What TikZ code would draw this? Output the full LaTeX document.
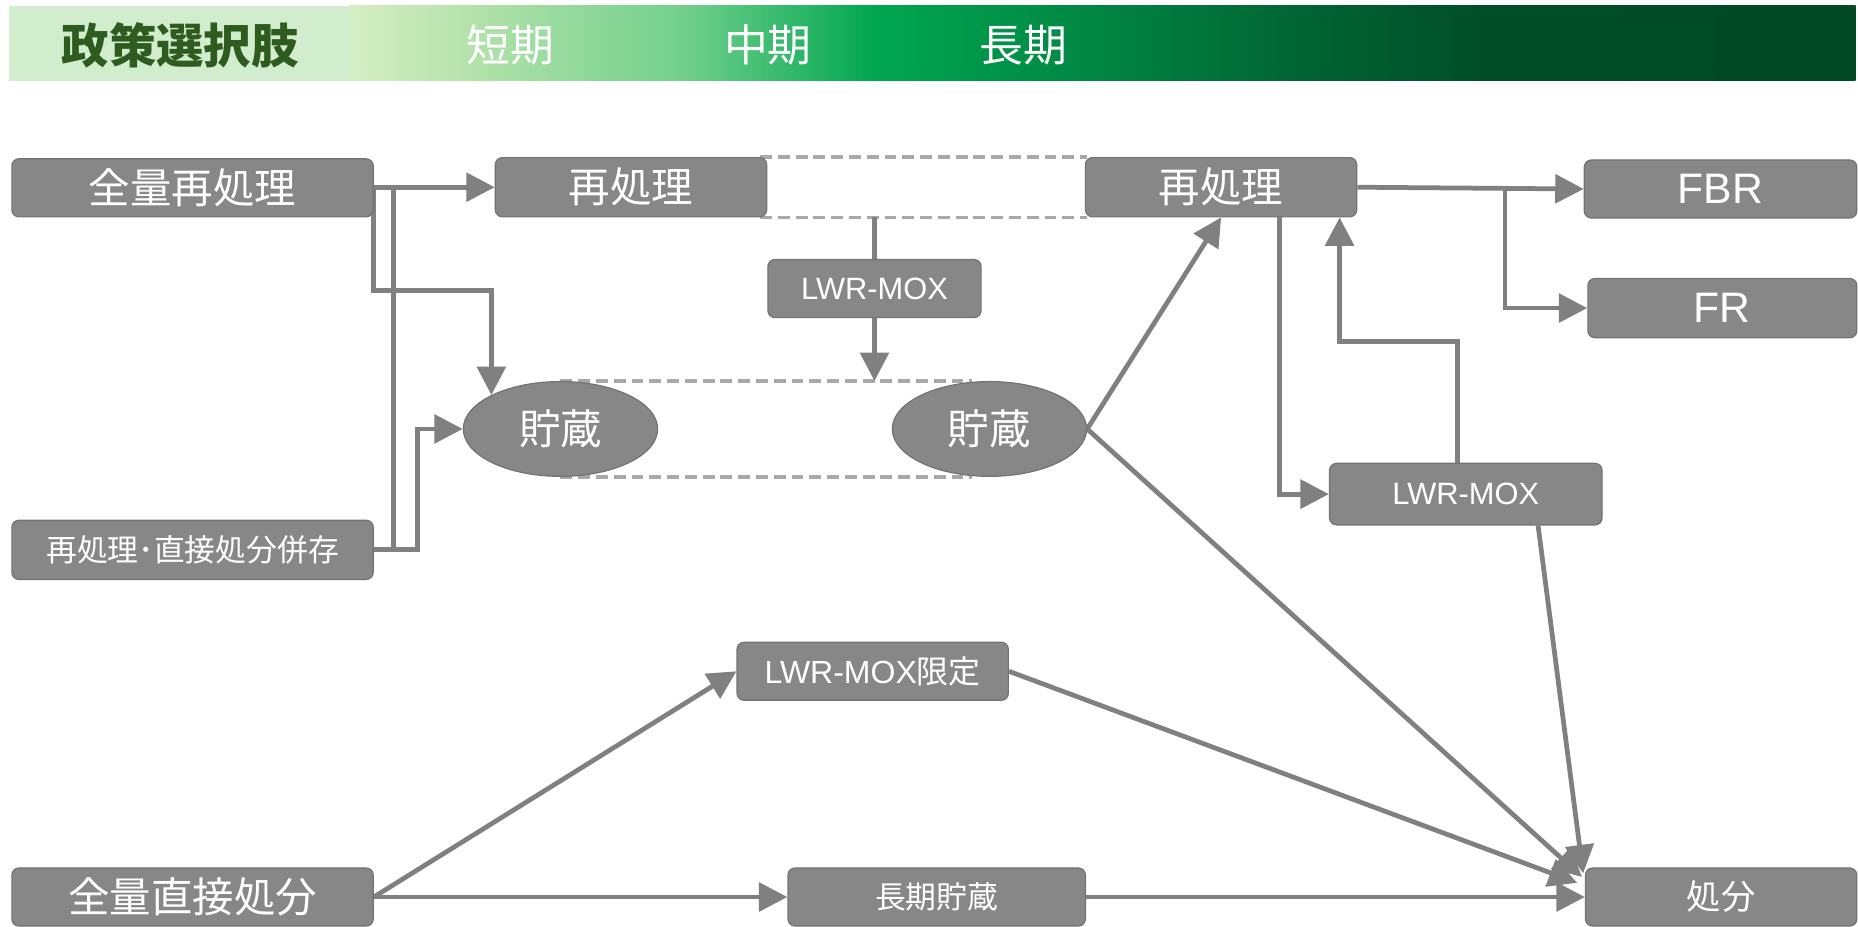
\documentclass[tikz,border=0pt]{standalone}
\usepackage{fontspec}
\setmainfont{Liberation Sans}
\newfontfamily\jp{Noto Sans CJK JP}
\usetikzlibrary{arrows.meta,shapes.geometric,backgrounds}
\definecolor{boxgray}{HTML}{878787}
\definecolor{boxedge}{HTML}{727272}
\definecolor{lineg}{HTML}{808080}
\definecolor{dashg}{HTML}{A8A8A8}
\definecolor{hdrleft}{HTML}{D2ECCE}
\definecolor{hdrtext}{HTML}{2E5C1E}
\definecolor{g1}{HTML}{D6EEC4}
\definecolor{g2}{HTML}{B4E2AA}
\definecolor{g3}{HTML}{72D08C}
\definecolor{g4}{HTML}{00A651}
\definecolor{g5}{HTML}{008A45}
\definecolor{g6}{HTML}{006434}
\definecolor{g7}{HTML}{004E28}
\definecolor{g8}{HTML}{004A25}
\pgfdeclarehorizontalshading{hdrshade}{100bp}{color(0bp)=(g1); color(25bp)=(g1); color(29bp)=(g2); color(36bp)=(g3); color(42.5bp)=(g4); color(48.8bp)=(g5); color(56.7bp)=(g6); color(62.6bp)=(g7); color(75bp)=(g8); color(100bp)=(g8)}
\tikzset{
  box/.style={rectangle, rounded corners=6pt, fill=boxgray, draw=boxedge, line width=1pt, text=white, inner sep=0pt, anchor=center},
  oval/.style={ellipse, fill=boxgray, draw=boxedge, line width=1pt, text=white, inner sep=0pt, minimum width=164pt, minimum height=80pt},
  big/.style={font=\jp\fontsize{35}{35}\selectfont},
  mid/.style={font=\fontsize{26}{26}\selectfont},
  conn/.style={draw=lineg, line width=4pt, -{Triangle[length=24pt,width=24pt]}},
  plain/.style={draw=lineg, line width=4pt},
  dashln/.style={draw=dashg, line width=3pt, dash pattern=on 10pt off 5pt},
  hdr/.style={font=\jp\fontsize{37}{37}\selectfont, text=white},
}
\begin{document}
\begin{tikzpicture}[x=1pt,y=-1pt]
\useasboundingbox (0,0) rectangle (1568,781.5);
% header
\fill[hdrleft] (8,5) rectangle (295,68);
\shade[shading=hdrshade] (295,5) rectangle (1566,68);
\node[font=\jp\bfseries\fontsize{40}{40}\selectfont, text=hdrtext] (hsel) at (152,38) {政策選択肢};
\node[hdr] (hs) at (431,38) {短期};
\node[hdr] (hm) at (648,38) {中期};
\node[hdr] (hl) at (864,38) {長期};
% boxes
\node[box, big, minimum width=305pt, minimum height=49pt] (zr) at (162.5,158.5) {全量再処理};
\node[box, big, minimum width=229pt, minimum height=50pt] (r1) at (532.5,158) {再処理};
\node[box, big, minimum width=229pt, minimum height=50pt] (r2) at (1030.5,158) {再処理};
\node[box, font=\fontsize{36}{36}\selectfont, minimum width=230pt, minimum height=49pt] (fbr) at (1452,159.5) {FBR};
\node[box, font=\fontsize{36}{36}\selectfont, minimum width=227pt, minimum height=50pt] (fr) at (1453.5,260) {FR};
\node[box, mid, minimum width=180pt, minimum height=49pt] (m1) at (738,243.5) {LWR-MOX};
\node[box, mid, minimum width=230pt, minimum height=52pt] (m2) at (1237,417) {LWR-MOX};
\node[oval, big] (s1) at (473,362) {貯蔵};
\node[oval, big] (s2) at (835,362) {貯蔵};
\node[box, font=\jp\fontsize{26}{26}\selectfont, minimum width=305pt, minimum height=50pt] (bz) at (162.5,464) {再処理･直接処分併存};
\node[box, font=\fontsize{27}{27}\selectfont, minimum width=229pt, minimum height=49pt] (mx) at (736.5,566.5) {LWR-MOX{\jp 限定}};
\node[box, big, minimum width=305pt, minimum height=49pt] (zd) at (162.5,757) {全量直接処分};
\node[box, font=\jp\fontsize{26}{26}\selectfont, minimum width=251pt, minimum height=49pt] (lt) at (790.5,757) {長期貯蔵};
\node[box, font=\jp\fontsize{29}{29}\selectfont, minimum width=229pt, minimum height=49pt] (dz) at (1452.5,757) {処分};
% helper coordinates
\coordinate (y245) at (0,245);
\coordinate (y288) at (0,288);
\coordinate (j1) at (332,158);
\coordinate (j2) at (1270,158);
\coordinate (e1) at (1335,740);
\coordinate (e2) at (1336,737);
\coordinate (e3) at (1331,745);
\begin{scope}[on background layer]
% dashed frames
\draw[dashln] ([xshift=-6pt]r1.north east) -- ([xshift=2pt]r2.north west);
\draw[dashln] ([xshift=-6pt]r1.south east) -- ([xshift=2pt]r2.south west);
\draw[dashln] (s1.north) -- ([xshift=-15pt]s2.north);
\draw[dashln] (s1.south) -- ([xshift=-15pt]s2.south);
% connectors
\draw[conn] (zr.east |- r1.west) -- (r1.west);
\draw[conn] (zr.east) |- (s1.north west |- y245) -- (s1.north west);
\draw[plain] (bz.east) -| (j1);
\draw[conn] (bz.east) -- ++(37,0) |- (s1.west);
\draw[plain] (m1.north |- r1.south) -- (m1.north);
\draw[conn] (m1.south) -- (m1.south |- s1.north);
\draw[conn] (s2.east) -- (r2.south);
\draw[conn] (s2.east) -- (e1);
\draw[conn] (r2.east) -- (fbr.west);
\draw[conn] (j2) |- (fr.west);
\draw[conn] ([xshift=49.5pt]r2.south) |- (m2.west);
\draw[conn] ([xshift=-7pt]m2.north) |- ([xshift=100pt]r2.south |- y288) -- ([xshift=100pt]r2.south);
\draw[conn] ([xshift=61pt]m2.south) -- (e2);
\draw[conn] (zd.east) -- (mx.west);
\draw[conn] (zd.east) -- (lt.west);
\draw[conn] (mx.east) -- (e3);
\draw[conn] (lt.east) -- (dz.west);
\end{scope}
\end{tikzpicture}
\end{document}
